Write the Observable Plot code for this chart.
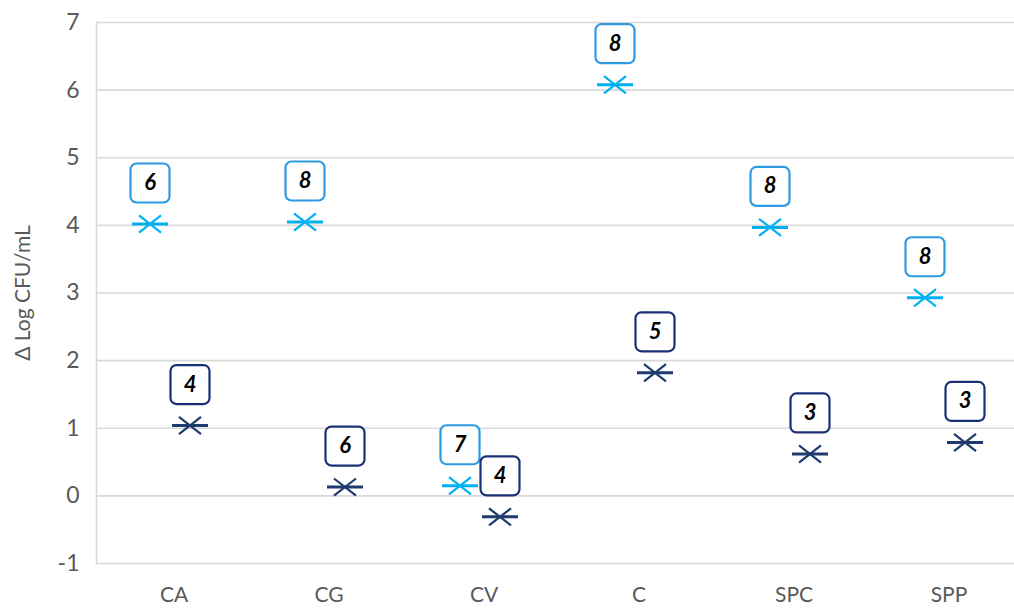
<!DOCTYPE html>
<html>
<head>
<meta charset="utf-8">
<script src="https://cdn.jsdelivr.net/npm/d3@7"></script>
<script src="https://cdn.jsdelivr.net/npm/@observablehq/plot@0.6"></script>
<style>
  html, body { margin: 0; padding: 0; background: #fff; }
</style>
</head>
<body>
<div id="chart"></div>
<script>
const categories = ["CA", "CG", "CV", "C", "SPC", "SPP"];
const lightValues = [4.02, 4.05, 0.15, 6.08, 3.97, 2.93];
const darkValues = [1.04, 0.13, -0.31, 1.82, 0.62, 0.79];
const lightLabels = ["6", "8", "7", "8", "8", "8"];
const darkLabels = ["4", "6", "4", "5", "3", "3"];
const yTicks = [-1, 0, 1, 2, 3, 4, 5, 6, 7];
const yTitle = "\u0394 Log CFU/mL";

const light = categories.map((c, i) => ({cat: c, value: lightValues[i], label: lightLabels[i]}));
const dark = categories.map((c, i) => ({cat: c, value: darkValues[i], label: darkLabels[i]}));

// custom symbols
const hline = {draw(ctx, size) { const r = Math.sqrt(size / Math.PI); ctx.moveTo(-r, 0); ctx.lineTo(r, 0); }};
const cross = {draw(ctx, size) {
  const r = Math.sqrt(size / Math.PI); const w = r, h = r * 0.78;
  ctx.moveTo(-w, -h); ctx.lineTo(w, h); ctx.moveTo(-w, h); ctx.lineTo(w, -h);
}};
const rbox = {draw(ctx, size) {
  const s = Math.sqrt(size / Math.PI); const k = 6;
  ctx.moveTo(-s + k, -s);
  ctx.arcTo(s, -s, s, s, k);
  ctx.arcTo(s, s, -s, s, k);
  ctx.arcTo(-s, s, -s, -s, k);
  ctx.arcTo(-s, -s, s, -s, k);
  ctx.closePath();
}};

function seriesMarks(data, dx, markerColor, boxColor) {
  return [
    Plot.dot(data, {x: "cat", y: "value", dx, symbol: hline, r: 18, stroke: markerColor, strokeWidth: 3, fill: "none"}),
    Plot.dot(data, {x: "cat", y: "value", dx, symbol: cross, r: 11, stroke: markerColor, strokeWidth: 2.2, fill: "none"}),
    Plot.dot(data, {x: "cat", y: "value", dx, dy: -41, symbol: rbox, r: 19.5, stroke: boxColor, strokeWidth: 2.2, fill: "white"}),
    Plot.text(data, {x: "cat", y: "value", dx, dy: -41, text: "label", fill: "black", fontSize: 22, fontWeight: "bold", fontStyle: "italic", textAnchor: "middle", lineAnchor: "middle"})
  ];
}

const chart = Plot.plot({
  width: 1014,
  height: 615,
  marginLeft: 96,
  marginRight: 0,
  marginTop: 22,
  marginBottom: 52,
  style: {fontFamily: "Lato, 'Open Sans', sans-serif", fontSize: "21px", color: "#595959", background: "white"},
  x: {type: "band", domain: categories, range: [96, 1026], padding: 0, label: null},
  y: {domain: [-1, 7], label: null},
  marks: [
    Plot.gridY(yTicks, {stroke: "#D9D9D9", strokeOpacity: 1, strokeWidth: 1.6}),
    Plot.frame({anchor: "left", stroke: "#D9D9D9", strokeWidth: 1.6}),
    Plot.axisY(yTicks, {tickSize: 0, tickPadding: 17, label: null, fontSize: 23, tickFormat: d => String(d)}),
    Plot.axisX({tickSize: 0, tickPadding: 24, label: null, fontSize: 21}),
    Plot.text([yTitle], {frameAnchor: "left", dx: -73, rotate: -90, fontSize: 21, fill: "#595959", textAnchor: "middle", lineAnchor: "middle"}),
    ...seriesMarks(light, -24, "#00B0F0", "#2E9AE0"),
    ...seriesMarks(dark, 16, "#1F3A6E", "#1B2F78")
  ]
});
document.getElementById("chart").appendChild(chart);
</script>
</body>
</html>
